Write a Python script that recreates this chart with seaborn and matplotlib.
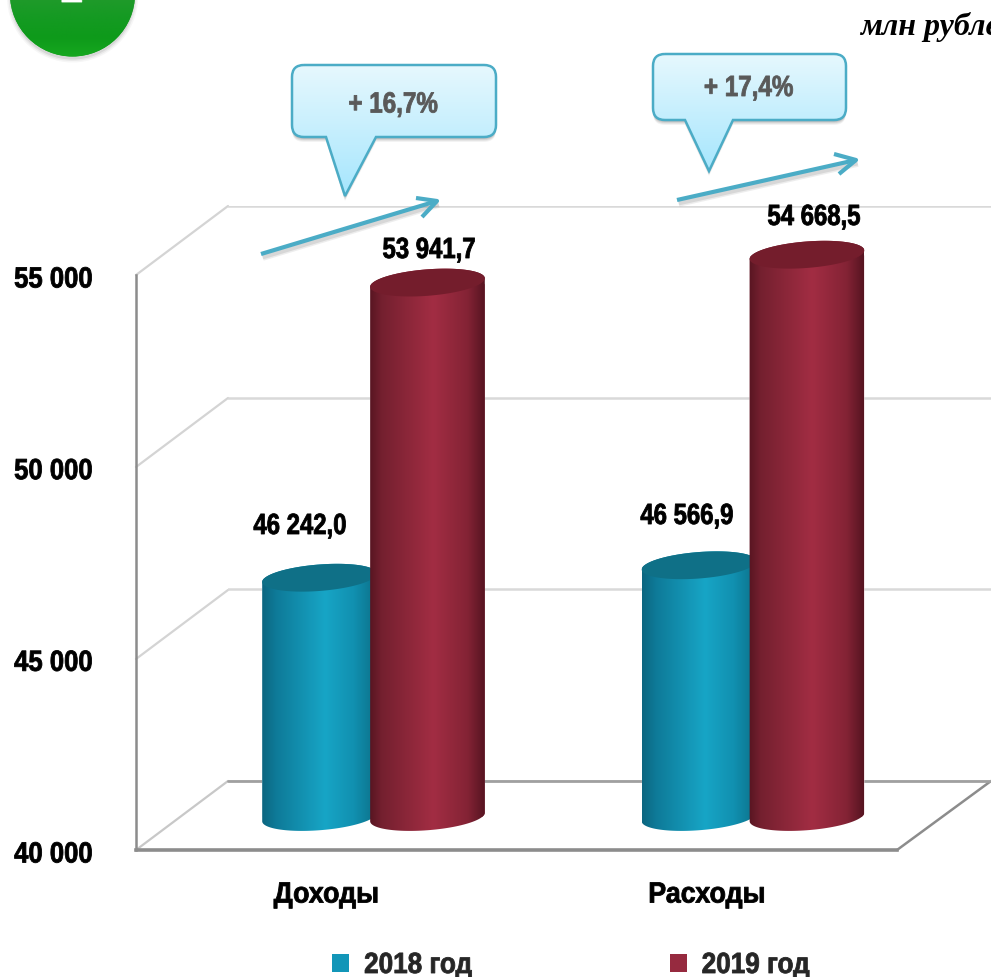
import numpy as np
import pandas as pd
import matplotlib
matplotlib.use("Agg")
import matplotlib.pyplot as plt
import seaborn as sns
from matplotlib.colors import LinearSegmentedColormap
from matplotlib.patches import Patch, Polygon, PathPatch, Circle
from matplotlib.path import Path
from matplotlib.patheffects import AbstractPathEffect
from matplotlib.transforms import Affine2D

categories = ["Доходы", "Расходы"]
years = ["2018 год", "2019 год"]
values_2018 = [46242.0, 46566.9]
values_2019 = [53941.7, 54668.5]
value_labels_2018 = ["46 242,0", "46 566,9"]
value_labels_2019 = ["53 941,7", "54 668,5"]
y_ticks = [40000, 45000, 50000, 55000]
y_tick_labels = ["40 000", "45 000", "50 000", "55 000"]
growth_labels = ["+ 16,7%", "+ 17,4%"]
unit_label = "млн рублей"

W, H = 991, 978
BLUE, RED = "#1296B8", "#962A3F"

sns.set_style("white")
plt.rcParams["font.family"] = ["Liberation Sans", "DejaVu Sans"]


class Narrow(AbstractPathEffect):
    """Condenses and slightly thickens the glyphs of a real text."""
    def __init__(self, sx, anchor="center", dy=0.0):
        super().__init__()
        self.sx, self.anchor, self.dy = sx, anchor, dy

    def draw_path(self, renderer, gc, tpath, affine, rgbFace=None):
        e = tpath.get_extents()
        c = {"left": e.x0, "right": e.x1, "center": (e.x0 + e.x1) / 2}[self.anchor]
        t = Affine2D().translate(-c, 0).scale(self.sx, 1).translate(c, 0)
        gc0 = renderer.new_gc()
        gc0.copy_properties(gc)
        gc0.set_linewidth(0.6)
        gc0.set_foreground(rgbFace)
        renderer.draw_path(gc0, tpath, t + affine + Affine2D().translate(0, self.dy), rgbFace)
        gc0.restore()


def narrow(artist, sx, anchor="center", dy=0.0):
    artist.set_path_effects([Narrow(sx, anchor, dy)])


fig = plt.figure(figsize=(W / 100, H / 100), dpi=100, facecolor="white")


def px_axes(left, top, right, bottom, z):
    a = fig.add_axes([left / W, 1 - bottom / H, (right - left) / W, (bottom - top) / H],
                     zorder=z, facecolor="none")
    return a


# ---- pixel layer behind the bars: side-wall diagonals
ax_px = px_axes(0, 0, W, H, 0)
ax_px.set_xlim(0, W); ax_px.set_ylim(H, 0); ax_px.axis("off")
for yf, yb in [(276, 207), (468, 399), (660, 591)]:
    ax_px.plot([136, 228], [yf, yb], color="#D4D4D4", lw=1.6, solid_capstyle="round")
ax_px.plot([136, 228], [851, 782], color="#C8C8C8", lw=1.6)
ax_px.plot([897, 991], [851, 782], color="#8C8C8C", lw=1.8)

# ---- back wall with gridlines
ax_back = px_axes(228, 207, 995, 782, 1)
ax_back.set_ylim(40000, 55000); ax_back.set_xlim(0, 1)
ax_back.set_yticks(y_ticks); ax_back.set_xticks([])
ax_back.set_yticklabels([])
ax_back.tick_params(length=0)
ax_back.grid(axis="y", color="#D9D9D9", lw=1.8)
for s in ax_back.spines.values():
    s.set_visible(False)
ax_back.axhline(40000, color="#A0A0A0", lw=2.0, clip_on=False)

# ---- bars
df = pd.DataFrame({
    "category": categories * 2,
    "year": [years[0]] * 2 + [years[1]] * 2,
    "value": values_2018 + values_2019,
})
SX_PX = 379.5
ax = px_axes(373.5 - SX_PX / 2, 243, 373.5 + 1.5 * SX_PX, 818, 2)
sns.barplot(data=df, x="category", y="value", hue="year", palette=[BLUE, RED],
            width=0.569, gap=-0.065, legend=False, ax=ax, saturation=1, errorbar=None)
ax.set_xlim(-0.5, 1.5)
ax.set_ylim(40000, 55000)
ax.axis("off")
PX_X = SX_PX
PX_Y = 575 / 15000

cm_blue = LinearSegmentedColormap.from_list("b", [(0, "#0C6680"), (.12, "#0E7A98"), (.55, "#17A5C6"),
                                                  (.8, "#1190B0"), (1, "#0C7088")])
cm_red = LinearSegmentedColormap.from_list("r", [(0, "#581522"), (.1, "#74202F"), (.55, "#A22D43"),
                                                 (.85, "#842335"), (1, "#561421")])
tops = {0: "#0F7087", 1: "#741D2C"}
cms = {0: cm_blue, 1: cm_red}
grad = np.linspace(0, 1, 256)[None, :]
TILT = np.radians(4.5)
B_PX = 13.2


def ell(cx, cy, w, t):
    a = w * PX_X / 2
    xp = a * np.cos(t) * np.cos(TILT) - B_PX * np.sin(t) * np.sin(TILT)
    yp = a * np.cos(t) * np.sin(TILT) + B_PX * np.sin(t) * np.cos(TILT)
    return np.column_stack([cx + xp / PX_X, cy + yp / PX_Y])


z = 2
for i, cont in enumerate(ax.containers):
    for p in cont:
        x0, w, h = p.get_x(), p.get_width(), p.get_height()
        cx = x0 + w / 2
        lower = ell(cx, 40000, w, np.linspace(np.pi, 2 * np.pi, 60))
        upper = ell(cx, h, w, np.linspace(0, np.pi, 60))
        clip = Polygon(np.vstack([lower, upper]), closed=True, transform=ax.transData)
        p.set_clip_path(clip)
        im = ax.imshow(grad, extent=(x0, x0 + w, 39000, h + 1000), cmap=cms[i], aspect="auto",
                       interpolation="bilinear", zorder=z + i * 2, origin="lower")
        im.set_clip_path(clip)
        im.set_clip_box(fig.bbox)
        ax.fill(*ell(cx, h, w, np.linspace(0, 2 * np.pi, 120)).T, color=tops[i],
                lw=0, zorder=z + i * 2 + 1, clip_on=False)
ax.set_xlim(-0.5, 1.5)
ax.set_ylim(40000, 55000)

# ---- front frame: value and category axes
ax_f = px_axes(136, 276, 897, 851, 3)
ax_f.set_xlim(-0.5, 1.5); ax_f.set_ylim(40000, 55000)
ax_f.set_xticks(range(len(categories))); ax_f.set_xticklabels(categories)
ax_f.set_yticks(y_ticks); ax_f.set_yticklabels(y_tick_labels)
ax_f.tick_params(axis="x", length=0, pad=22)
ax_f.tick_params(axis="y", length=0, pad=31)
for lab in ax_f.get_xticklabels():
    lab.set(fontsize=21, fontweight="bold", color="black")
    narrow(lab, 0.92)
for lab in ax_f.get_yticklabels():
    lab.set(fontsize=21, fontweight="bold", color="black")
    narrow(lab, 0.88, "right", dy=-1.5)
for k in ("top", "right"):
    ax_f.spines[k].set_visible(False)
ax_f.spines["left"].set(color="#8C8C8C", lw=1.8)
ax_f.spines["bottom"].set(color="#8C8C8C", lw=2.6)

# ---- top pixel layer
ov = px_axes(0, 0, W, H, 4)
ov.set_xlim(0, W); ov.set_ylim(H, 0); ov.axis("off")

for s, lab in zip([(300, 527), (687, 517)], value_labels_2018):
    narrow(ov.text(*s, lab, fontsize=21, fontweight="bold", ha="center", va="center", color="black"), 0.82)
for s, lab in zip([(429, 251), (814, 218)], value_labels_2019):
    narrow(ov.text(*s, lab, fontsize=21, fontweight="bold", ha="center", va="center", color="black"), 0.82)

# green badge
for k, al in enumerate([.05, .08, .12]):
    ov.add_patch(Circle((72.5, -5 + 3), 62.5 + 3 - k * 1.5, color="#555555", alpha=al, lw=0))
badge = Circle((72.5, -5), 62.5, color="#14A01F", lw=0)
ov.add_patch(badge)
cm_green = LinearSegmentedColormap.from_list("g", ["#1F9A2A", "#149A22", "#0E9A1A", "#16A81F"])
im = ov.imshow(np.linspace(0, 1, 64)[:, None], extent=(10, 135, 58, 0), cmap=cm_green, aspect="auto",
               interpolation="bilinear", zorder=2, origin="upper")
im.set_clip_path(badge)
narrow(ov.text(72, 3, "2", fontsize=38, fontweight="bold", color="white", ha="center", va="baseline", zorder=3), 0.78)

ov.text(860, 35, unit_label, family="Liberation Serif", fontsize=23, fontweight="bold", style="italic",
        color="black", ha="left", va="baseline", clip_on=True, zorder=6)

# callouts
cm_call = LinearSegmentedColormap.from_list("c", ["#E6F8FE", "#A6E6FD"])


def callout(x0, y0, x1, y1, ptr0, tip, ptr1, label, ty, r=12):
    M, L, C = Path.MOVETO, Path.LINETO, Path.CURVE3
    v = [(x0 + r, y0), (x1 - r, y0), (x1, y0), (x1, y0 + r), (x1, y1 - r), (x1, y1), (x1 - r, y1),
         (ptr1, y1), tip, (ptr0, y1), (x0 + r, y1), (x0, y1), (x0, y1 - r), (x0, y0 + r), (x0, y0),
         (x0 + r, y0)]
    c = [M, L, C, C, L, C, C, L, L, L, L, C, C, L, C, C]
    pth = Path(v, c)
    for d, al in [(5, .06), (4, .08), (3, .10), (2, .12)]:
        ov.add_patch(PathPatch(pth.transformed(Affine2D().translate(0, d)), fc="#404040", ec="none",
                               alpha=al, zorder=4))
    pp = PathPatch(pth, fc="none", ec="#4BACC6", lw=1.8, zorder=6)
    ov.add_patch(pp)
    g = ov.imshow(np.linspace(0, 1, 128)[:, None], extent=(x0, x1, tip[1], y0), cmap=cm_call, aspect="auto",
                  interpolation="bilinear", zorder=5, origin="upper")
    g.set_clip_path(PathPatch(pth, transform=ov.transData))
    narrow(ov.text((x0 + x1) / 2 - 1, ty, label, color="#595959", fontsize=21, fontweight="bold",
                   ha="center", va="center", zorder=7), 0.83)


callout(292, 66, 496, 138, 326, (345, 197), 376, growth_labels[0], 105.5)
callout(653, 55, 846, 121, 685, (709, 172), 733, growth_labels[1], 89)


def arrow(p0, tip, arm0, arm1):
    for d, al, lw in [(4, .10, 4), (3, .14, 3.5)]:
        ov.plot([p0[0] + d / 2, tip[0] + d / 2], [p0[1] + d, tip[1] + d], color="#555555", alpha=al, lw=lw,
                zorder=7, solid_capstyle="butt")
    ov.plot([p0[0], tip[0]], [p0[1], tip[1]], color="#4BACC6", lw=3, zorder=8, solid_capstyle="butt")
    ov.plot([arm0[0], tip[0], arm1[0]], [arm0[1], tip[1], arm1[1]], color="#4BACC6", lw=3, zorder=8,
            solid_joinstyle="round", solid_capstyle="butt")


arrow((261, 255), (437, 202), (416, 199), (422, 218))
arrow((677, 201), (856, 161), (834, 155), (839, 175))

ov.set_xlim(0, W); ov.set_ylim(H, 0)

# ---- legend
handles = [Patch(fc=BLUE, ec="none", label=years[0]), Patch(fc=RED, ec="none", label=years[1])]
leg = fig.legend(handles=handles, loc="center left", bbox_to_anchor=(332 / W, 1 - 966 / H), ncols=2,
                 frameon=False, prop={"weight": "bold", "size": 21}, borderpad=0, borderaxespad=0,
                 handlelength=0.583, handleheight=0.583, handletextpad=0.514, columnspacing=6.35)
for t in leg.get_texts():
    narrow(t, 0.895, "left")

fig.savefig("out.png", dpi=100, facecolor="white")
